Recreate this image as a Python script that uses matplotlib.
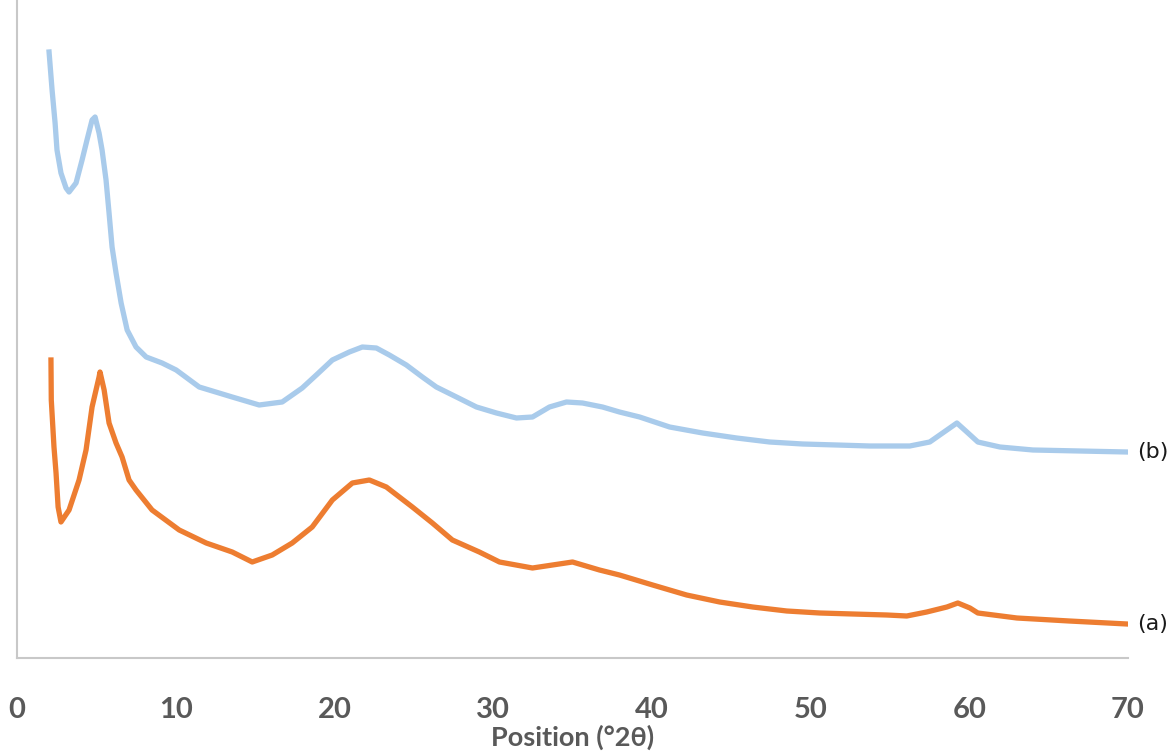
import matplotlib
matplotlib.use("Agg")
import matplotlib.pyplot as plt

# XRD patterns, intensity in arbitrary units
pos_b = [2.02, 2.21, 2.40, 2.52, 2.77, 3.09, 3.28, 3.72, 4.10, 4.41, 4.73, 4.92,
         5.17, 5.36, 5.61, 5.80, 5.99, 6.24, 6.56, 6.94, 7.50, 8.14, 9.14, 10.03,
         11.48, 13.56, 15.26, 16.71, 17.97, 18.86, 19.87, 20.94, 21.76, 22.64,
         23.46, 24.53, 25.54, 26.42, 27.69, 28.95, 30.21, 31.47, 32.48, 33.55,
         34.62, 35.63, 36.89, 37.96, 39.23, 41.12, 43.2, 45.34, 47.42, 49.5,
         51.65, 53.73, 56.25, 57.51, 58.59, 59.22, 59.85, 60.54, 61.93, 64.01,
         69.94]
int_b = [606, 568, 535, 508, 485, 470, 466, 475, 498, 518, 538, 541,
         525, 508, 478, 445, 411, 385, 355, 328, 311, 301, 295, 288,
         271, 261, 253, 256, 270, 283, 298, 306, 311, 310,
         303, 293, 281, 271, 261, 251, 245, 240, 241, 251,
         256, 255, 251, 246, 241, 231, 225, 220, 216, 214,
         213, 212, 212, 216, 228, 235, 226, 216, 211, 208,
         206]

pos_a = [2.14, 2.16, 2.33, 2.46, 2.59, 2.77, 3.28, 3.91, 4.35, 4.73, 5.17, 5.23,
         5.49, 5.80, 6.24, 6.62, 7.06, 7.50, 8.51, 10.22, 11.92, 13.56, 14.82,
         16.08, 17.34, 18.60, 19.87, 21.13, 22.20, 23.27, 24.91, 26.17, 27.43,
         29.13, 30.40, 32.48, 33.74, 35.0, 36.70, 37.96, 40.05, 42.19, 44.27,
         46.35, 48.5, 50.58, 52.66, 54.8, 56.06, 57.32, 58.59, 59.28, 60.04,
         60.54, 63.0, 66.3, 69.94]
int_a = [298, 258, 211, 185, 151, 136, 148, 178, 208, 251, 281, 286,
         268, 235, 215, 201, 178, 168, 148, 128, 115, 106, 96,
         103, 115, 131, 158, 175, 178, 171, 151, 135, 118,
         106, 96, 90, 93, 96, 88, 83, 73, 63, 56,
         51, 47, 45, 44, 43, 42, 46, 51, 55, 50,
         45, 40, 37, 34]

fig = plt.figure(figsize=(11.75, 7.55), dpi=100)
ax = fig.add_axes([17 / 1175, 97 / 755, 1111 / 1175, 658 / 755])

ax.plot(pos_b, int_b, color='#A9CBEB', lw=3.8, solid_joinstyle='round')
ax.plot(pos_a, int_a, color='#ED7D31', lw=3.8, solid_joinstyle='round')

ax.text(70.6, int_b[-1], '(b)', fontsize=16, color='#1a1a1a', va='center', ha='left')
ax.text(70.6, int_a[-1], '(a)', fontsize=16, color='#1a1a1a', va='center', ha='left')

ax.set_xlim(0, 70)
ax.set_ylim(0, 658)
ax.set_xticks(range(0, 71, 10))
ax.set_yticks([])
ax.tick_params(axis='x', length=0, pad=28, labelsize=21, labelcolor='#595959')
for t in ax.get_xticklabels():
    t.set_fontfamily('Lato')
    t.set_fontweight('bold')
ax.spines['top'].set_visible(False)
ax.spines['right'].set_visible(False)
ax.spines['left'].set_color('#C8C8C8')
ax.spines['bottom'].set_color('#C8C8C8')
ax.spines['left'].set_linewidth(1.5)
ax.spines['bottom'].set_linewidth(1.5)

ax.set_xlabel('Position (°2θ)', fontsize=19.5, fontweight='bold', color='#595959',
              family='Lato', labelpad=1)

fig.savefig('out.png', dpi=100)
